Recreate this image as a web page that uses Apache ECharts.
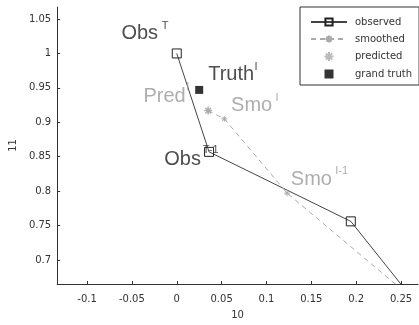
<!DOCTYPE html>
<html><head><meta charset="utf-8">
<script src="https://cdn.jsdelivr.net/npm/echarts@6/dist/echarts.min.js"></script>
<style>html,body{margin:0;padding:0;background:#fff}#c{width:419px;height:325px}</style>
</head><body><div id="c"></div>
<script>
const xTicks = [-0.1, -0.05, 0, 0.05, 0.1, 0.15, 0.2, 0.25];
const yTicks = [0.7, 0.75, 0.8, 0.85, 0.9, 0.95, 1, 1.05];
const observed = [[0, 1], [0.036, 0.857], [0.194, 0.756], [0.262, 0.645]];
const smoothed = [[0.035, 0.917], [0.053, 0.905], [0.123, 0.797], [0.26, 0.647]];
const predicted = [[0.035, 0.917]];
const grandTruth = [[0.025, 0.947]];
const labelText = [
  {pos: [-0.0617, 1.0283], text: 'Obs', color: '#222'},
  {pos: [0.035, 0.9689], text: 'Truth', color: '#222'},
  {pos: [-0.0372, 0.9381], text: 'Pred', color: '#999'},
  {pos: [0.0606, 0.9246], text: 'Smo', color: '#999'},
  {pos: [-0.0139, 0.846], text: 'Obs', color: '#222'},
  {pos: [0.1272, 0.8167], text: 'Smo', color: '#999'}
];
const supText = [
  {pos: [-0.0166, 1.0404], text: 'T', color: '#222'},
  {pos: [0.0867, 0.9804], text: 'I', color: '#222'},
  {pos: [0.0106, 0.952], text: 'I', color: '#999'},
  {pos: [0.11, 0.936], text: 'I', color: '#999'},
  {pos: [0.0289, 0.8604], text: 'T-1', color: '#222'},
  {pos: [0.1767, 0.829], text: 'I-1', color: '#999'}
];
const star = 'path://M0,-10L0,10M-10,0L10,0M-7,-7L7,7M-7,7L7,-7';
const square = 'path://M0,0L10,0L10,10L0,10Z';
const chart = echarts.init(document.getElementById('c'), null, {renderer: 'canvas'});
const font = 'Liberation Sans, Arial, sans-serif';
const tfont = 'DejaVu Sans, sans-serif';
function textSeries(items, size) {
  return {type: 'scatter', silent: true, symbolSize: 0, z: 10,
    data: items.map(a => ({value: a.pos,
      label: {show: true, position: [0, 0], align: 'left', verticalAlign: 'middle',
        formatter: a.text, fontSize: size, color: a.color, fontFamily: font}}))};
}
chart.setOption({
  animation: false,
  backgroundColor: '#fff',
  grid: {left: 56, top: 7, right: 1, bottom: 36},
  xAxis: {
    type: 'value', min: -0.1333, max: 0.2689,
    name: '10', nameLocation: 'middle', nameGap: 26,
    nameTextStyle: {color: '#333', fontSize: 10, fontFamily: tfont},
    splitLine: {show: false},
    axisLine: {onZero: false, lineStyle: {color: '#333'}},
    axisTick: {inside: true, length: 3, customValues: xTicks, lineStyle: {color: '#333'}},
    axisLabel: {customValues: xTicks, color: '#333', fontSize: 10, fontFamily: tfont, margin: 10,
      formatter: v => String(+v.toFixed(2))}
  },
  yAxis: {
    type: 'value', min: 0.665, max: 1.0675,
    name: '11', nameLocation: 'middle', nameGap: 35,
    nameTextStyle: {color: '#333', fontSize: 10, fontFamily: tfont},
    splitLine: {show: false},
    axisLine: {show: true, onZero: false, lineStyle: {color: '#333'}},
    axisTick: {show: true, inside: true, length: 3, customValues: yTicks, lineStyle: {color: '#333'}},
    axisLabel: {customValues: yTicks, color: '#333', fontSize: 10, fontFamily: tfont, margin: 6,
      formatter: v => String(+v.toFixed(2))}
  },
  legend: {
    left: 300, top: 7, orient: 'vertical',
    backgroundColor: '#fff', borderColor: '#333', borderWidth: 1, borderRadius: 0,
    padding: [10, 7, 6, 10], itemGap: 7, itemWidth: 36, itemHeight: 9,
    textStyle: {color: '#333', fontSize: 10, fontFamily: tfont, padding: [0, 0, 0, 3]},
    data: [
      {name: 'observed'},
      {name: 'smoothed'},
      {name: 'predicted', icon: star},
      {name: 'grand truth', icon: square}
    ]
  },
  series: [
    {name: 'observed', type: 'line', data: observed, clip: true,
      symbol: 'rect', symbolSize: 9, showAllSymbol: true,
      lineStyle: {color: '#444', width: 1},
      itemStyle: {color: 'rgba(255,255,255,0)', borderColor: '#222', borderWidth: 1}},
    {name: 'smoothed', type: 'line', data: smoothed, clip: true,
      symbol: star, symbolSize: 6,
      lineStyle: {color: '#aaa', width: 1, type: [5, 4]},
      itemStyle: {color: '#aaa', borderColor: '#aaa', borderWidth: 1}},
    {name: 'predicted', type: 'scatter', data: predicted,
      symbol: star, symbolSize: 8,
      itemStyle: {color: '#aaa', borderColor: '#aaa', borderWidth: 1.5}},
    {name: 'grand truth', type: 'scatter', data: grandTruth,
      symbol: 'rect', symbolSize: 8,
      itemStyle: {color: '#000'}},
    textSeries(labelText, 20),
    textSeries(supText, 11)
  ]
});
</script></body></html>
